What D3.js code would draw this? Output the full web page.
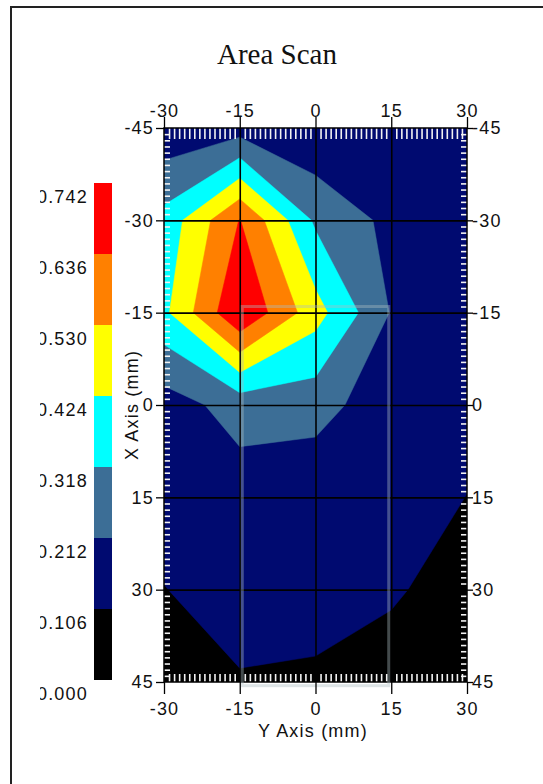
<!DOCTYPE html>
<html><head><meta charset="utf-8">
<script src="https://cdn.jsdelivr.net/npm/d3@7"></script>
<style>
html,body{margin:0;padding:0;background:#fff;}
svg{display:block;}
</style></head><body>
<svg id="chart" width="543" height="784"></svg>
<script>
// ---- data ----
const chartTitle = "Area Scan";
const bottomTitle = "Y Axis (mm)";
const leftTitle = "X Axis (mm)";
const gridX = [-30, -15, 0, 15, 30];          // horizontal sample positions (mm)
const gridY = [-45, -30, -15, 0, 15, 30, 45]; // vertical sample positions (mm)
const rowM45 = [0.136, 0.165, 0.120, 0.140, 0.140];
const rowM30 = [0.354, 0.640, 0.300, 0.184, 0.150];
const rowM15 = [0.400, 0.736, 0.466, 0.205, 0.150];
const row0   = [0.163, 0.254, 0.254, 0.146, 0.130];
const rowP15 = [0.140, 0.161, 0.133, 0.140, 0.105];
const rowP30 = [0.104, 0.140, 0.147, 0.119, 0.060];
const rowP45 = [0.080, 0.100, 0.090, 0.060, 0.040];
const levels = [0.000, 0.106, 0.212, 0.318, 0.424, 0.530, 0.636, 0.742];
const levelLabels = ["0.000", "0.106", "0.212", "0.318", "0.424", "0.530", "0.636", "0.742"];
const xTicks = [-30, -15, 0, 15, 30];
const yTicks = [-45, -30, -15, 0, 15, 30, 45];
const scanRectX = [-14.5, 14.5];
const scanRectY = [-16, 45.6];
const bandColors = ["#000000", "#000a70", "#3c6e96", "#00ffff", "#ffff00", "#ff8000", "#ff0000"];

// ---- layout ----
const svg = d3.select("#chart");
const P = {left: 164, right: 467, top: 128, bottom: 682};
const xs = d3.scaleLinear().domain([-30, 30]).range([P.left, P.right]);
const ys = d3.scaleLinear().domain([-45, 45]).range([P.top, P.bottom]);
const cb = d3.scaleLinear().domain([levels[0], levels[levels.length - 1]]).range([680, 183]);
const FONT = "'Liberation Sans', Arial, sans-serif";

// frame
svg.append("path").attr("d", "M11,784V7H543").attr("fill", "none")
  .attr("stroke", "#222").attr("stroke-width", 2);

// title
svg.append("text").attr("x", 277).attr("y", 64).attr("text-anchor", "middle")
  .attr("font-family", "'Liberation Serif', 'Times New Roman', serif")
  .attr("font-size", 29).attr("fill", "#111").text(chartTitle);

// ---- contours ----
const rows = [rowM45, rowM30, rowM15, row0, rowP15, rowP30, rowP45];
const nx = gridX.length, ny = gridY.length;
const values = rows.flat();
const contours = d3.contours().size([nx, ny]).thresholds(levels.slice(0, 7))(values);
const gx = d3.scaleLinear().domain([0.5, nx - 0.5]).range([gridX[0], gridX[nx - 1]]);
const gy = d3.scaleLinear().domain([0.5, ny - 0.5]).range([gridY[0], gridY[ny - 1]]);
const proj = d3.geoTransform({
  point(cx, cy) { this.stream.point(xs(gx(cx)), ys(gy(cy))); }
});
const path = d3.geoPath(proj);

svg.append("clipPath").attr("id", "plotClip").append("rect")
  .attr("x", P.left).attr("y", P.top)
  .attr("width", P.right - P.left).attr("height", P.bottom - P.top);

const plot = svg.append("g").attr("clip-path", "url(#plotClip)");
plot.selectAll("path.band").data(contours).join("path")
  .attr("class", "band")
  .attr("d", path)
  .attr("fill", (d, i) => bandColors[i])
  .attr("stroke", (d, i) => bandColors[i]).attr("stroke-width", 0.5);

// gridlines
plot.append("g").attr("transform", `translate(0,${P.top})`)
  .call(d3.axisBottom(xs).tickValues(xTicks.slice(1, -1)).tickSize(P.bottom - P.top).tickFormat(""))
  .call(g => g.select(".domain").remove())
  .call(g => g.selectAll("line").attr("stroke", "#000").attr("stroke-width", 1.6));
plot.append("g").attr("transform", `translate(${P.left},0)`)
  .call(d3.axisRight(ys).tickValues(yTicks.slice(1, -1)).tickSize(P.right - P.left).tickFormat(""))
  .call(g => g.select(".domain").remove())
  .call(g => g.selectAll("line").attr("stroke", "#000").attr("stroke-width", 1.6));

// minor inner ticks (1 mm)
const minorX = d3.range(-30, 31).filter(v => v % 15 !== 0);
const minorY = d3.range(-45, 46).filter(v => v % 15 !== 0);
function minor(g) {
  g.select(".domain").remove();
  g.selectAll("line").attr("stroke", "#f2f2f2").attr("stroke-width", 1.6);
}
plot.append("g").attr("transform", `translate(0,${P.top})`)
  .call(d3.axisTop(xs).tickValues(minorX).tickSize(-11).tickFormat("")).call(minor);
plot.append("g").attr("transform", `translate(0,${P.bottom})`)
  .call(d3.axisBottom(xs).tickValues(minorX).tickSize(-8).tickFormat("")).call(minor);
plot.append("g").attr("transform", `translate(${P.left},0)`)
  .call(d3.axisLeft(ys).tickValues(minorY).tickSize(-6).tickFormat("")).call(minor);
plot.append("g").attr("transform", `translate(${P.right},0)`)
  .call(d3.axisRight(ys).tickValues(minorY).tickSize(-6).tickFormat("")).call(minor);

// plot border
svg.append("rect").attr("x", P.left).attr("y", P.top)
  .attr("width", P.right - P.left).attr("height", P.bottom - P.top)
  .attr("fill", "none").attr("stroke", "#000").attr("stroke-width", 1.5);

// scan region rectangle
svg.append("rect")
  .attr("x", xs(scanRectX[0])).attr("y", ys(scanRectY[0]))
  .attr("width", xs(scanRectX[1]) - xs(scanRectX[0]))
  .attr("height", ys(scanRectY[1]) - ys(scanRectY[0]))
  .attr("fill", "none").attr("stroke", "rgba(170,188,192,0.4)").attr("stroke-width", 3);

// ---- outer axes ----
const fmt = d => String(d);
function styleAxis(g) {
  g.select(".domain").remove();
  g.selectAll("line").attr("stroke", "#000").attr("stroke-width", 1.3);
  g.selectAll("text").attr("font-family", FONT).attr("font-size", 18)
    .attr("letter-spacing", 1.2).attr("fill", "#111");
}
svg.append("g").attr("transform", `translate(0,${P.top})`)
  .call(d3.axisTop(xs).tickValues(xTicks).tickSize(11).tickPadding(0).tickFormat(fmt)).call(styleAxis);
svg.append("g").attr("transform", `translate(0,${P.bottom})`)
  .call(d3.axisBottom(xs).tickValues(xTicks).tickSize(12).tickPadding(8).tickFormat(fmt)).call(styleAxis);
svg.append("g").attr("transform", `translate(${P.left},0)`)
  .call(d3.axisLeft(ys).tickValues(yTicks).tickSize(8).tickPadding(2).tickFormat(fmt)).call(styleAxis);
svg.append("g").attr("transform", `translate(${P.right},0)`)
  .call(d3.axisRight(ys).tickValues(yTicks).tickSize(6).tickPadding(-1).tickFormat(fmt)).call(styleAxis);

// axis titles
svg.append("text").attr("x", 313).attr("y", 737).attr("text-anchor", "middle")
  .attr("font-family", FONT).attr("font-size", 18).attr("letter-spacing", 1.2)
  .attr("fill", "#111").text(bottomTitle);
svg.append("text").attr("transform", `translate(138,405) rotate(-90)`).attr("text-anchor", "middle")
  .attr("font-family", FONT).attr("font-size", 18).attr("letter-spacing", 1.2)
  .attr("fill", "#111").text(leftTitle);

// ---- colour bar ----
const bands = d3.range(levels.length - 1).map(i => ({lo: levels[i], hi: levels[i + 1], color: bandColors[i]}));
svg.selectAll("rect.cb").data(bands).join("rect").attr("class", "cb")
  .attr("x", 94).attr("width", 18)
  .attr("y", d => cb(d.hi)).attr("height", d => cb(d.lo) - cb(d.hi))
  .attr("fill", d => d.color);

svg.append("clipPath").attr("id", "lblClip").append("rect")
  .attr("x", 40).attr("y", 150).attr("width", 60).attr("height", 580);
svg.append("g").attr("clip-path", "url(#lblClip)")
  .selectAll("text").data(levels).join("text")
  .attr("x", 88).attr("y", d => cb(d) + 19.5)
  .attr("text-anchor", "end")
  .attr("font-family", FONT).attr("font-size", 18).attr("letter-spacing", 1.2)
  .attr("fill", "#111")
  .text((d, i) => levelLabels[i]);
</script>
</body></html>
